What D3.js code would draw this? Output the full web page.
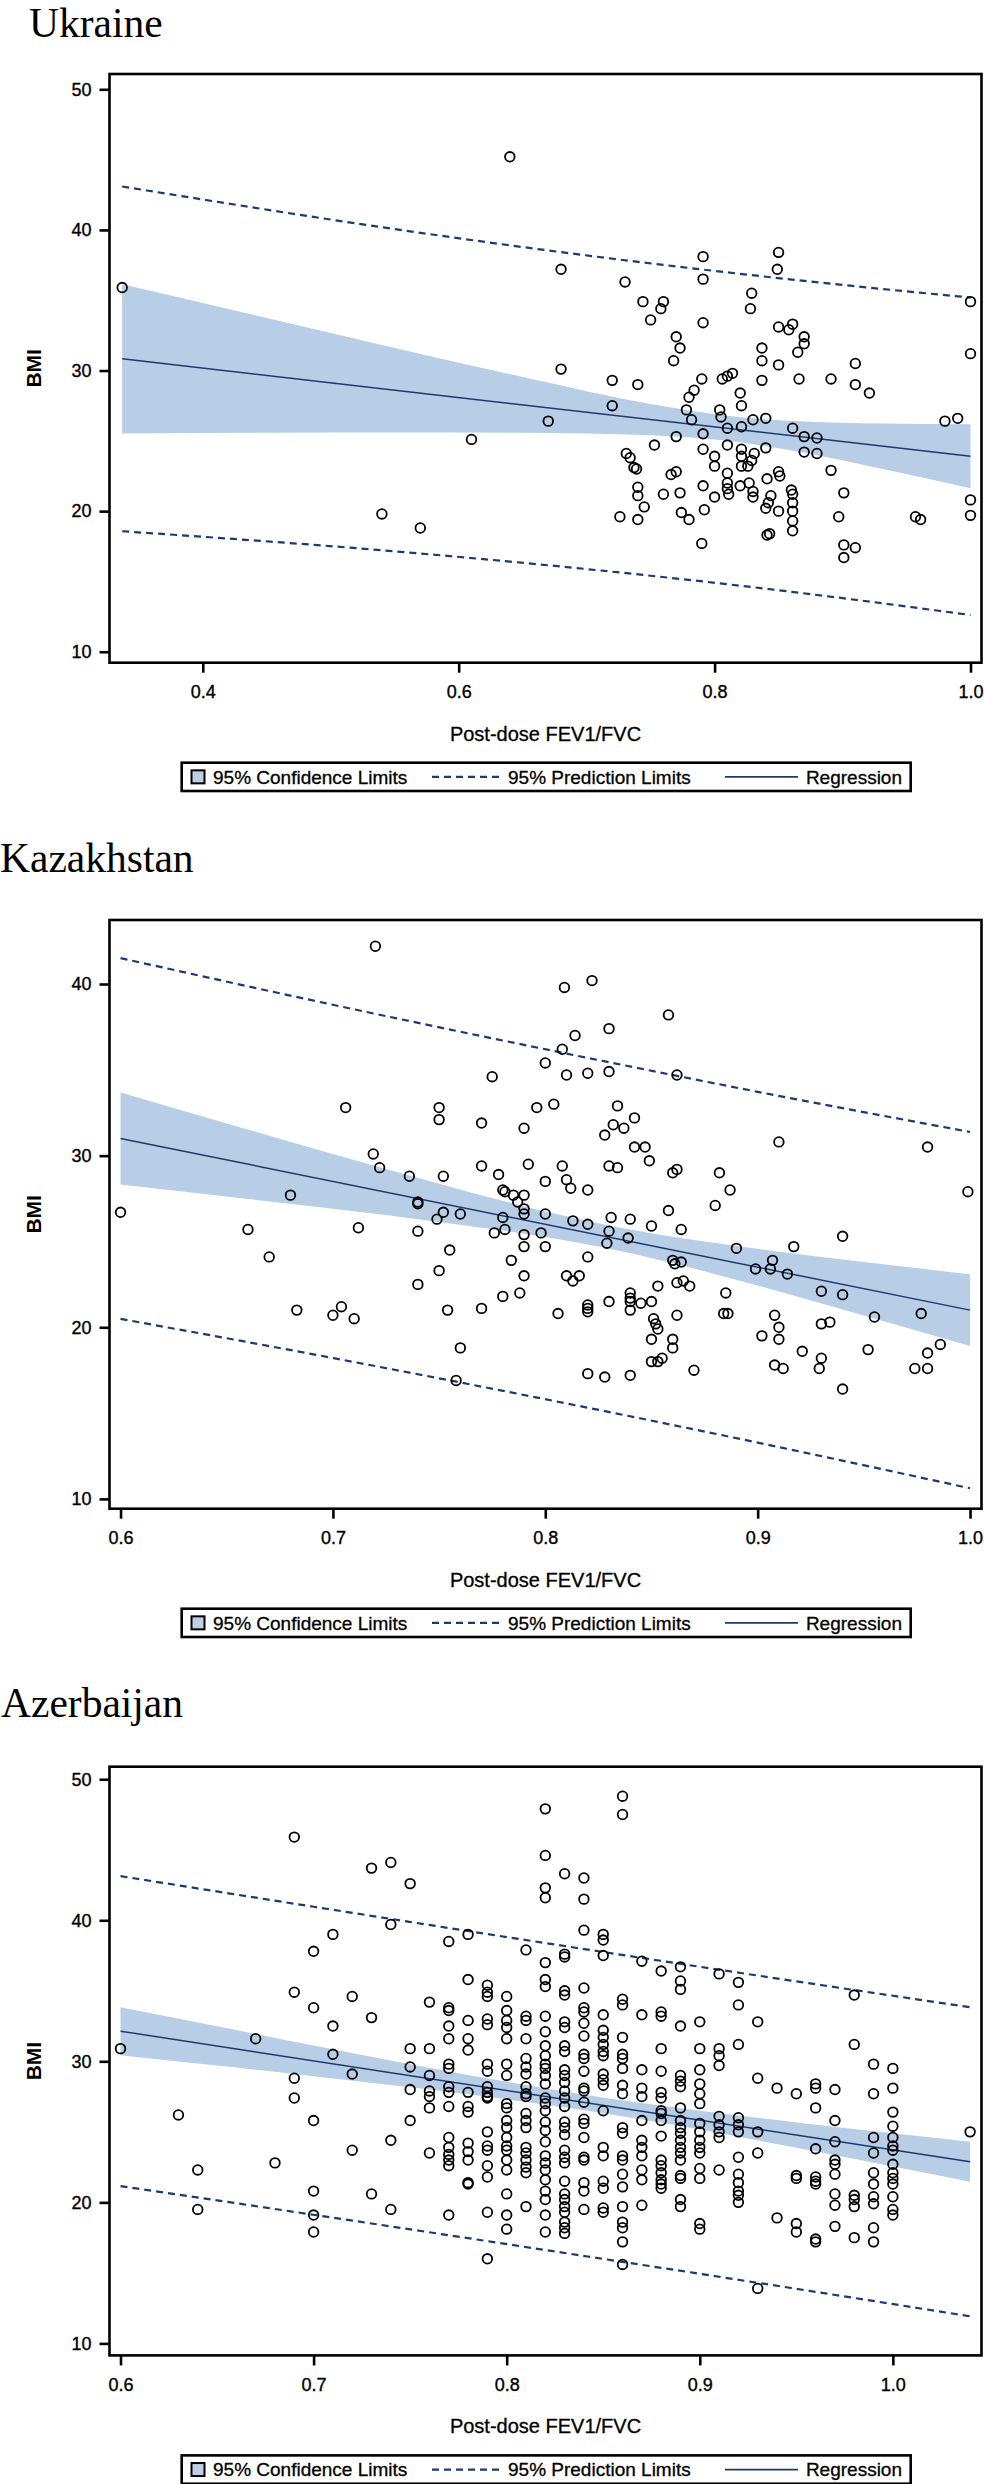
<!DOCTYPE html>
<html><head><meta charset="utf-8">
<script src="https://cdn.jsdelivr.net/npm/d3@7/dist/d3.min.js"></script>
<style>body{margin:0;background:#fff}</style>
</head><body><svg id="chart" width="984" height="2484"></svg>
<script>
// ---------------- DATA ----------------
const legendLabels = ["95% Confidence Limits", "95% Prediction Limits", "Regression"];
const xAxisTitle = "Post-dose FEV1/FVC";
const yAxisTitle = "BMI";

// Ukraine
const uaXTicks = [0.4, 0.6, 0.8, 1.0];
const uaYTicks = [10, 20, 30, 40, 50];
const uaPoints = [[0.640,45.2],[0.337,35.9],[0.680,37.2],[0.730,36.3],[0.680,30.1],[0.670,26.4],[0.610,25.1],[0.540,19.8],[0.570,18.8],[0.720,29.3],[0.720,27.5],[0.740,29.0],[0.744,34.9],[0.760,34.9],[0.758,34.4],[0.750,33.6],[0.791,38.1],[0.791,36.5],[0.849,37.2],[0.850,38.4],[0.829,35.5],[0.828,34.4],[0.791,33.4],[0.770,32.4],[0.773,31.6],[0.768,30.7],[0.790,29.4],[0.784,28.6],[0.780,28.1],[0.778,27.2],[0.782,26.5],[0.770,25.3],[0.753,24.7],[0.731,24.1],[0.734,23.8],[0.737,23.1],[0.739,23.0],[0.766,22.6],[0.770,22.8],[0.740,21.7],[0.740,21.1],[0.760,21.2],[0.773,21.3],[0.745,20.3],[0.726,19.6],[0.740,19.4],[0.774,19.9],[0.780,19.4],[0.792,20.1],[0.790,17.7],[0.791,21.8],[0.791,24.4],[0.791,25.5],[0.804,27.2],[0.805,26.7],[0.806,29.4],[0.810,29.6],[0.814,29.8],[0.820,28.4],[0.821,27.5],[0.810,25.9],[0.821,26.0],[0.830,26.5],[0.840,26.6],[0.837,29.3],[0.837,30.7],[0.837,31.6],[0.850,30.4],[0.850,33.1],[0.858,32.9],[0.861,33.3],[0.870,32.4],[0.870,31.9],[0.865,31.3],[0.866,29.4],[0.891,29.4],[0.910,30.5],[0.910,29.0],[0.921,28.4],[0.861,25.9],[0.870,25.3],[0.880,25.2],[0.870,24.2],[0.880,24.1],[0.891,22.9],[0.901,21.3],[0.897,19.6],[0.901,17.6],[0.901,16.7],[0.910,17.4],[0.810,24.7],[0.800,23.9],[0.800,23.2],[0.821,24.4],[0.821,23.9],[0.831,24.1],[0.829,23.6],[0.821,23.2],[0.826,23.2],[0.810,22.7],[0.810,22.0],[0.827,22.0],[0.820,21.8],[0.810,21.6],[0.811,21.2],[0.800,21.0],[0.830,21.4],[0.830,21.0],[0.841,22.3],[0.850,22.8],[0.851,22.5],[0.840,24.5],[0.840,20.2],[0.844,21.1],[0.842,20.6],[0.850,20.0],[0.841,18.3],[0.843,18.4],[0.860,21.5],[0.861,21.2],[0.861,20.6],[0.861,20.0],[0.861,19.3],[0.861,18.6],[0.957,19.6],[0.961,19.4],[0.980,26.4],[0.990,26.6],[1.000,34.9],[1.000,31.2],[1.000,20.8],[1.000,19.7]];
const uaReg = [[0.337,30.83],[1.0,23.90]];
const uaCI = [[0.337,25.53,36.13],[0.45,25.57,33.73],[0.55,25.59,31.61],[0.65,25.58,29.54],[0.75,25.40,27.62],[0.81,25.00,26.78],[0.87,24.15,26.37],[0.93,23.03,26.23],[1.0,21.62,26.18]];
const uaPredUpper = [[0.337,43.09],[0.55,40.06],[0.68,38.42],[0.81,36.98],[0.9,36.09],[1.0,35.19]];
const uaPredLower = [[0.337,18.57],[0.55,17.14],[0.68,16.06],[0.81,14.80],[0.9,13.81],[1.0,12.61]];

// Kazakhstan
const kzXTicks = [0.6, 0.7, 0.8, 0.9, 1.0];
const kzYTicks = [10, 20, 30, 40];
const kzPoints = [[0.720,42.2],[0.822,40.2],[0.809,39.8],[0.858,38.2],[0.830,37.4],[0.814,37.0],[0.808,36.2],[0.800,35.4],[0.810,34.7],[0.820,34.8],[0.830,34.9],[0.862,34.7],[0.775,34.6],[0.706,32.8],[0.750,32.8],[0.750,32.1],[0.770,31.9],[0.790,31.6],[0.796,32.8],[0.804,33.0],[0.834,32.9],[0.842,32.2],[0.832,31.8],[0.837,31.6],[0.828,31.2],[0.842,30.5],[0.847,30.5],[0.849,29.7],[0.910,30.8],[0.980,30.5],[0.999,27.9],[0.719,30.1],[0.722,29.3],[0.736,28.8],[0.752,28.8],[0.770,29.4],[0.778,28.9],[0.792,29.5],[0.808,29.4],[0.810,28.6],[0.812,28.1],[0.820,28.0],[0.834,29.3],[0.830,29.4],[0.800,28.5],[0.860,29.0],[0.862,29.2],[0.882,29.0],[0.887,28.0],[0.780,28.0],[0.781,27.9],[0.785,27.7],[0.790,27.7],[0.787,27.3],[0.680,27.7],[0.600,26.7],[0.740,27.3],[0.740,27.2],[0.752,26.7],[0.749,26.3],[0.760,26.6],[0.780,26.4],[0.790,26.9],[0.790,26.6],[0.800,26.6],[0.813,26.2],[0.820,26.0],[0.831,26.4],[0.840,26.3],[0.850,25.9],[0.858,26.8],[0.864,25.7],[0.880,27.1],[0.660,25.7],[0.712,25.8],[0.740,25.6],[0.776,25.5],[0.781,25.7],[0.790,25.4],[0.798,25.5],[0.830,25.6],[0.839,25.2],[0.829,24.9],[0.940,25.3],[0.670,24.1],[0.755,24.5],[0.790,24.7],[0.800,24.7],[0.820,24.1],[0.890,24.6],[0.917,24.7],[0.784,23.9],[0.860,23.9],[0.864,23.8],[0.861,23.7],[0.899,23.4],[0.906,23.4],[0.907,23.9],[0.914,23.1],[0.750,23.3],[0.790,23.0],[0.810,23.0],[0.816,23.0],[0.813,22.7],[0.740,22.5],[0.865,22.7],[0.862,22.6],[0.868,22.4],[0.853,22.4],[0.930,22.1],[0.940,21.9],[0.885,22.0],[0.788,22.0],[0.780,21.8],[0.840,22.0],[0.840,21.7],[0.840,21.5],[0.830,21.5],[0.845,21.4],[0.850,21.5],[0.683,21.0],[0.754,21.0],[0.770,21.1],[0.820,21.3],[0.820,21.1],[0.820,20.9],[0.806,20.8],[0.840,21.0],[0.704,21.2],[0.700,20.7],[0.710,20.5],[0.884,20.8],[0.886,20.8],[0.862,20.7],[0.908,20.7],[0.977,20.8],[0.955,20.6],[0.851,20.5],[0.852,20.2],[0.853,19.9],[0.910,20.0],[0.930,20.2],[0.934,20.3],[0.902,19.5],[0.850,19.3],[0.860,19.3],[0.860,18.8],[0.910,19.3],[0.760,18.8],[0.921,18.6],[0.952,18.7],[0.980,18.5],[0.986,19.0],[0.930,18.2],[0.850,18.0],[0.855,18.2],[0.853,18.0],[0.908,17.8],[0.912,17.6],[0.929,17.6],[0.974,17.6],[0.980,17.6],[0.870,17.5],[0.820,17.3],[0.828,17.1],[0.840,17.2],[0.758,16.9],[0.940,16.4]];
const kzReg = [[0.6,31.0],[1.0,21.0]];
const kzCI = [[0.6,28.32,33.68],[0.65,27.62,31.88],[0.7,26.90,30.10],[0.75,26.14,28.36],[0.8,25.26,26.74],[0.827,24.66,26.00],[0.86,23.73,25.27],[0.9,22.43,24.57],[0.95,20.69,23.81],[1.0,18.91,23.09]];
const kzPredUpper = [[0.6,41.51],[0.7,38.79],[0.827,35.52],[0.9,33.72],[1.0,31.38]];
const kzPredLower = [[0.6,20.49],[0.7,18.21],[0.827,15.14],[0.9,13.28],[1.0,10.62]];

// Azerbaijan
const azXTicks = [0.6, 0.7, 0.8, 0.9, 1.0];
const azYTicks = [10, 20, 30, 40, 50];
const azPoints = [
[0.60,30.9],[0.63,26.2],[0.64,22.3],[0.64,19.5],[0.67,31.6],[0.68,22.8],
[0.69,45.9],[0.69,34.9],[0.69,28.8],[0.69,27.4],
[0.70,37.8],[0.70,33.8],[0.70,25.8],[0.70,20.8],[0.70,19.1],[0.70,17.9],
[0.71,39.0],[0.71,32.5],[0.71,30.5],
[0.72,34.6],[0.72,29.1],[0.72,23.7],
[0.73,43.7],[0.73,33.1],[0.73,20.6],
[0.74,44.1],[0.74,39.7],[0.74,24.4],[0.74,19.5],
[0.75,42.6],[0.75,30.9],[0.75,29.6],[0.75,28.0],[0.75,25.8],
[0.76,34.2],[0.76,30.9],[0.76,29.0],[0.76,27.9],[0.76,27.5],[0.76,26.7],[0.76,23.5],
[0.77,38.5],[0.77,33.8],[0.77,33.6],[0.77,32.5],[0.77,31.6],[0.77,29.8],[0.77,29.5],[0.77,28.2],[0.77,27.8],[0.77,26.8],[0.77,24.6],[0.77,23.9],[0.77,23.4],[0.77,23.0],[0.77,22.6],[0.77,19.1],
[0.78,39.0],[0.78,35.8],[0.78,32.9],[0.78,31.6],[0.78,30.8],[0.78,27.8],[0.78,26.8],[0.78,26.4],[0.78,24.2],[0.78,23.6],[0.78,23.0],[0.78,21.4],[0.78,21.3],
[0.79,35.4],[0.79,34.9],[0.79,34.6],[0.79,33.0],[0.79,32.6],[0.79,29.8],[0.79,29.3],[0.79,28.2],[0.79,27.8],[0.79,27.5],[0.79,27.4],[0.79,25.0],[0.79,24.0],[0.79,23.7],[0.79,22.6],[0.79,21.8],[0.79,19.3],[0.79,16.0],
[0.80,34.6],[0.80,33.6],[0.80,32.9],[0.80,32.4],[0.80,31.6],[0.80,29.8],[0.80,29.0],[0.80,27.0],[0.80,26.7],[0.80,25.8],[0.80,25.3],[0.80,24.6],[0.80,24.0],[0.80,23.7],[0.80,23.0],[0.80,22.3],[0.80,20.6],[0.80,19.1],[0.80,18.1],
[0.81,37.9],[0.81,33.2],[0.81,32.9],[0.81,31.6],[0.81,30.2],[0.81,29.6],[0.81,29.1],[0.81,28.2],[0.81,27.7],[0.81,27.5],[0.81,26.3],[0.81,25.8],[0.81,25.3],[0.81,23.9],[0.81,23.5],[0.81,23.0],[0.81,22.5],[0.81,22.1],[0.81,19.7],
[0.82,47.9],[0.82,44.6],[0.82,42.3],[0.82,41.6],[0.82,37.0],[0.82,35.8],[0.82,35.3],[0.82,33.2],[0.82,32.1],[0.82,31.1],[0.82,30.4],[0.82,29.8],[0.82,29.5],[0.82,29.0],[0.82,28.4],[0.82,27.4],[0.82,27.0],[0.82,26.5],[0.82,25.7],[0.82,25.1],[0.82,24.3],[0.82,23.3],[0.82,22.8],[0.82,22.3],[0.82,21.6],[0.82,20.8],[0.82,20.2],[0.82,19.1],[0.82,17.9],
[0.83,43.3],[0.83,37.6],[0.83,37.4],[0.83,35.0],[0.83,34.7],[0.83,32.8],[0.83,32.4],[0.83,31.1],[0.83,30.7],[0.83,29.4],[0.83,29.0],[0.83,28.5],[0.83,27.9],[0.83,27.4],[0.83,26.8],[0.83,25.7],[0.83,25.3],[0.83,24.8],[0.83,23.7],[0.83,23.2],[0.83,22.8],[0.83,21.5],[0.83,20.6],[0.83,20.2],[0.83,19.7],[0.83,19.3],[0.83,18.6],[0.83,18.2],[0.83,17.8],
[0.84,43.0],[0.84,41.5],[0.84,39.3],[0.84,35.2],[0.84,33.8],[0.84,33.5],[0.84,32.7],[0.84,31.8],[0.84,30.5],[0.84,30.2],[0.84,29.3],[0.84,28.1],[0.84,27.9],[0.84,27.1],[0.84,25.9],[0.84,25.6],[0.84,24.6],[0.84,23.2],[0.84,23.0],[0.84,21.4],[0.84,20.8],[0.84,19.5],
[0.85,39.0],[0.85,38.6],[0.85,37.5],[0.85,33.3],[0.85,32.2],[0.85,31.7],[0.85,31.2],[0.85,30.7],[0.85,30.4],[0.85,29.1],[0.85,28.7],[0.85,28.3],[0.85,26.5],[0.85,23.9],[0.85,23.3],[0.85,21.5],[0.85,21.0],[0.85,19.6],[0.85,19.3],
[0.86,48.8],[0.86,47.5],[0.86,34.4],[0.86,34.0],[0.86,31.7],[0.86,30.5],[0.86,30.2],[0.86,29.5],[0.86,28.3],[0.86,27.7],[0.86,25.3],[0.86,24.9],[0.86,23.3],[0.86,23.0],[0.86,22.0],[0.86,21.1],[0.86,19.7],[0.86,18.6],[0.86,18.2],[0.86,17.2],[0.86,15.6],
[0.87,37.1],[0.87,33.3],[0.87,29.4],[0.87,28.1],[0.87,27.5],[0.87,25.8],[0.87,24.4],[0.87,23.9],[0.87,23.3],[0.87,22.3],[0.87,21.6],[0.87,19.8],
[0.88,36.4],[0.88,33.5],[0.88,33.2],[0.88,30.9],[0.88,29.3],[0.88,27.8],[0.88,27.4],[0.88,26.5],[0.88,26.3],[0.88,25.8],[0.88,24.7],[0.88,23.0],[0.88,22.6],[0.88,22.1],[0.88,21.6],[0.88,21.3],[0.88,21.0],
[0.89,36.7],[0.89,35.7],[0.89,35.1],[0.89,32.5],[0.89,29.0],[0.89,28.6],[0.89,28.2],[0.89,26.7],[0.89,25.8],[0.89,25.3],[0.89,24.9],[0.89,24.4],[0.89,23.9],[0.89,23.5],[0.89,23.0],[0.89,21.9],[0.89,21.7],[0.89,20.2],[0.89,19.7],
[0.90,32.8],[0.90,30.9],[0.90,29.4],[0.90,28.4],[0.90,27.7],[0.90,27.0],[0.90,25.6],[0.90,25.0],[0.90,24.4],[0.90,23.9],[0.90,23.5],[0.90,22.4],[0.90,21.7],[0.90,18.5],[0.90,18.1],
[0.91,36.2],[0.91,30.9],[0.91,30.4],[0.91,29.7],[0.91,26.1],[0.91,25.5],[0.91,25.0],[0.91,24.6],[0.91,22.3],
[0.92,35.6],[0.92,34.0],[0.92,31.2],[0.92,26.0],[0.92,25.5],[0.92,25.0],[0.92,23.2],[0.92,22.0],[0.92,21.4],[0.92,20.8],[0.92,20.5],[0.92,20.0],
[0.93,32.8],[0.93,28.8],[0.93,25.0],[0.93,23.5],[0.93,13.9],
[0.94,28.1],[0.94,18.9],
[0.95,27.7],[0.95,21.9],[0.95,21.7],[0.95,18.5],[0.95,17.9],
[0.96,28.4],[0.96,28.1],[0.96,26.7],[0.96,23.8],[0.96,21.8],[0.96,21.5],[0.96,21.3],[0.96,17.4],[0.96,17.2],
[0.97,28.0],[0.97,25.8],[0.97,24.3],[0.97,23.0],[0.97,22.7],[0.97,22.0],[0.97,20.6],[0.97,19.8],[0.97,18.3],
[0.98,34.7],[0.98,31.2],[0.98,20.5],[0.98,20.2],[0.98,19.7],[0.98,17.5],
[0.99,29.8],[0.99,27.7],[0.99,24.6],[0.99,23.5],[0.99,22.1],[0.99,21.3],[0.99,20.4],[0.99,19.9],[0.99,18.2],[0.99,17.2],
[1.00,29.5],[1.00,28.1],[1.00,26.4],[1.00,25.4],[1.00,24.6],[1.00,24.0],[1.00,23.7],[1.00,22.7],[1.00,22.1],[1.00,21.7],[1.00,21.3],[1.00,20.4],[1.00,19.5],[1.00,19.1],
[1.04,25.0]];
const azReg = [[0.6,32.14],[1.04,22.88]];
const azCI = [[0.6,30.44,33.84],[0.65,29.70,32.48],[0.7,28.95,31.13],[0.75,28.16,29.80],[0.8,27.31,28.55],[0.842,26.49,27.59],[0.9,25.16,26.50],[0.95,23.87,25.67],[1.0,22.54,24.90],[1.04,21.46,24.30]];
const azPredUpper = [[0.6,43.13],[0.7,40.96],[0.842,37.92],[0.95,35.67],[1.04,33.84]];
const azPredLower = [[0.6,21.15],[0.7,19.12],[0.842,16.16],[0.95,13.87],[1.04,11.92]];

// ---------------- LAYOUT ----------------
const panels = [
  {title:"Ukraine", tx:29, ty:37, top:74, xDom:[0.3271,1.0086], yDom:[9.22,51.09],
   xTicks:uaXTicks, yTicks:uaYTicks, points:uaPoints, reg:uaReg, ci:uaCI, pu:uaPredUpper, pl:uaPredLower},
  {title:"Kazakhstan", tx:0, ty:871.5, top:920, xDom:[0.5948,1.0054], yDom:[9.43,43.73],
   xTicks:kzXTicks, yTicks:kzYTicks, points:kzPoints, reg:kzReg, ci:kzCI, pu:kzPredUpper, pl:kzPredLower},
  {title:"Azerbaijan", tx:1, ty:1717, top:1766.7, xDom:[0.5943,1.0459], yDom:[9.15,50.89],
   xTicks:azXTicks, yTicks:azYTicks, points:azPoints, reg:azReg, ci:azCI, pu:azPredUpper, pl:azPredLower}
];
const L = 109.5, R = 981.5, PH = 588.7;
const NAVY = "#1b3a70", BAND = "#b8cde6";
const SANS = "'Liberation Sans', Arial, Helvetica, sans-serif";
const SERIF = "'Liberation Serif', 'Times New Roman', serif";

const svg = d3.select("#chart");

panels.forEach(p => {
  const g = svg.append("g");
  const x = d3.scaleLinear().domain(p.xDom).range([L, R]);
  const y = d3.scaleLinear().domain(p.yDom).range([p.top + PH, p.top]);

  g.append("text").attr("x", p.tx).attr("y", p.ty).text(p.title)
    .attr("font-family", SERIF).attr("font-size", 41.5).attr("fill", "#000");

  g.append("path").datum(p.ci)
    .attr("d", d3.area().x(d => x(d[0])).y0(d => y(d[1])).y1(d => y(d[2])).curve(d3.curveMonotoneX))
    .attr("fill", BAND);

  const line = d3.line().x(d => x(d[0])).y(d => y(d[1])).curve(d3.curveMonotoneX);
  [p.pu, p.pl].forEach(arr => {
    g.append("path").datum(arr).attr("d", line).attr("fill", "none")
      .attr("stroke", NAVY).attr("stroke-width", 2.2).attr("stroke-dasharray", "7,5");
  });
  g.append("path").datum(p.reg).attr("d", line).attr("fill", "none")
    .attr("stroke", NAVY).attr("stroke-width", 1.5);

  g.append("g").selectAll("circle").data(p.points).join("circle")
    .attr("cx", d => x(d[0])).attr("cy", d => y(d[1])).attr("r", 4.8)
    .attr("fill", "none").attr("stroke", "#000").attr("stroke-width", 1.8);

  g.append("rect").attr("x", L).attr("y", p.top).attr("width", R - L).attr("height", PH)
    .attr("fill", "none").attr("stroke", "#000").attr("stroke-width", 2.6);

  const ya = g.append("g").attr("transform", `translate(${L},0)`)
    .call(d3.axisLeft(y).tickValues(p.yTicks).tickSize(10).tickPadding(8).tickFormat(d3.format("d")));
  const xa = g.append("g").attr("transform", `translate(0,${p.top + PH})`)
    .call(d3.axisBottom(x).tickValues(p.xTicks).tickSize(10).tickPadding(13).tickFormat(d3.format(".1f")));
  [ya, xa].forEach(a => {
    a.select(".domain").remove();
    a.selectAll(".tick line").attr("stroke", "#000").attr("stroke-width", 2.6);
    a.selectAll(".tick text").attr("font-family", SANS).attr("font-size", 18).attr("fill", "#000")
      .attr("stroke", "#000").attr("stroke-width", 0.35);
  });

  g.append("text").attr("transform", `translate(33,${p.top + PH / 2}) rotate(-90)`)
    .attr("text-anchor", "middle").attr("dy", "0.36em").text(yAxisTitle)
    .attr("font-family", SANS).attr("font-weight", "bold").attr("font-size", 21);

  g.append("text").attr("x", (L + R) / 2).attr("y", p.top + PH + 78).attr("text-anchor", "middle")
    .text(xAxisTitle).attr("font-family", SANS).attr("font-size", 20)
    .attr("stroke", "#000").attr("stroke-width", 0.3);

  // legend
  const lt = p.top + 688.7, lh = 28.3, cy = lt + lh / 2;
  const lg = g.append("g");
  lg.append("rect").attr("x", 181.7).attr("y", lt).attr("width", 729).attr("height", lh)
    .attr("fill", "#fff").attr("stroke", "#000").attr("stroke-width", 2.6);
  lg.append("rect").attr("x", 191.5).attr("y", cy - 6.5).attr("width", 13).attr("height", 13)
    .attr("fill", "#bfd0e6").attr("stroke", "#000").attr("stroke-width", 2);
  lg.append("line").attr("x1", 432).attr("x2", 502).attr("y1", cy).attr("y2", cy)
    .attr("stroke", NAVY).attr("stroke-width", 2.2).attr("stroke-dasharray", "7,5");
  lg.append("line").attr("x1", 725).attr("x2", 798).attr("y1", cy).attr("y2", cy)
    .attr("stroke", NAVY).attr("stroke-width", 1.8);
  const lx = [213, 508, 902], anchors = ["start", "start", "end"];
  legendLabels.forEach((t, i) => {
    lg.append("text").attr("x", lx[i]).attr("y", cy).attr("dy", "0.36em").attr("text-anchor", anchors[i])
      .text(t).attr("font-family", SANS).attr("font-size", 19).attr("fill", "#000")
      .attr("stroke", "#000").attr("stroke-width", 0.3);
  });
});
</script>
</body></html>
